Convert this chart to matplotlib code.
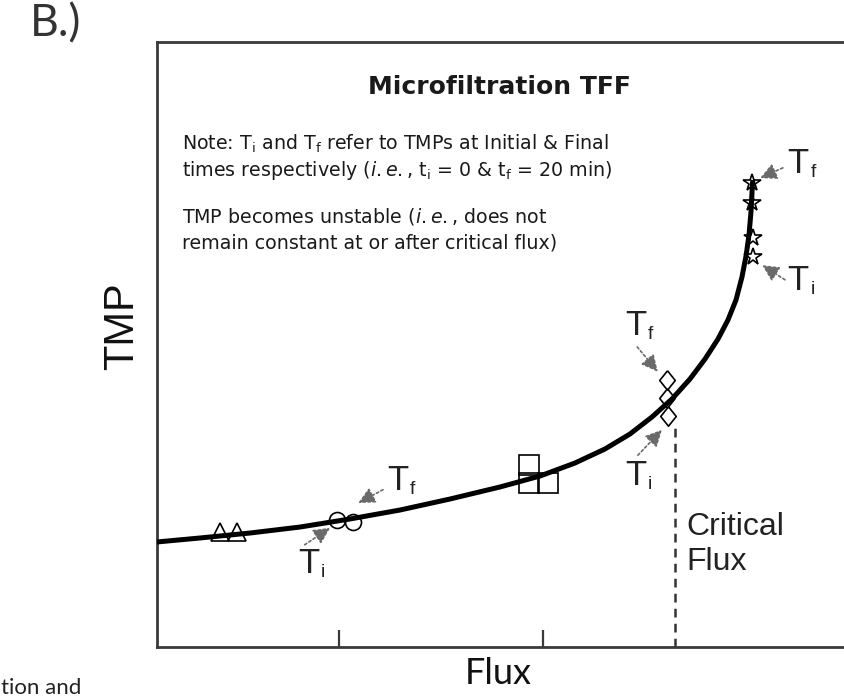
import numpy as np
import matplotlib
matplotlib.use('Agg')
import matplotlib.pyplot as plt

# TMP vs flux curve (arbitrary units)
flux = [0.000, 0.626, 1.354, 2.082, 2.809, 3.537, 4.265, 4.993, 5.575, 6.084,
        6.521, 6.885, 7.205, 7.496, 7.758, 7.977, 8.166, 8.311, 8.428, 8.515,
        8.574, 8.617, 8.646, 8.668, 8.675]
tmp = [1.736, 1.802, 1.884, 1.983, 2.116, 2.264, 2.446, 2.645, 2.826, 3.041,
       3.273, 3.521, 3.802, 4.099, 4.430, 4.760, 5.091, 5.405, 5.736, 6.116,
       6.463, 6.810, 7.190, 7.669, 7.719]

# Ti / Tf points at each flux step
tri_x = [0.92, 1.16]
tri_y = [1.90, 1.90]
circ_x = [2.62, 2.85]
circ_y = [2.10, 2.07]
sq_x = [5.41, 5.41, 5.69]
sq_y = [3.01, 2.71, 2.71]
dia_x = [7.42, 7.42, 7.44]
dia_y = [4.41, 4.12, 3.82]
star_x = [8.66, 8.66, 8.68, 8.68]
star_y = [7.67, 7.34, 6.76, 6.45]

critical_flux = 7.54
critical_top = 3.67
flux_ticks = [2.65, 5.62]

# annotations: subscript, T position (left, baseline), arrow tail, arrow tip
labels = [
    ('f', (9.18, 7.83), (9.11, 7.92), (8.78, 7.75)),
    ('i', (9.18, 5.90), (9.14, 6.07), (8.81, 6.31)),
    ('f', (6.81, 5.16), (6.99, 4.96), (7.29, 4.55)),
    ('i', (6.81, 2.68), (7.00, 3.17), (7.35, 3.59)),
    ('f', (3.35, 2.60), (3.29, 2.60), (2.93, 2.38)),
    ('i', (2.05, 1.22), (2.15, 1.69), (2.52, 1.97)),
]

note_lines = [
    r"Note: T$_\mathregular{i}$ and T$_\mathregular{f}$ refer to TMPs at Initial & Final",
    r"times respectively ($\mathit{i.e.}$, t$_\mathregular{i}$ = 0 & t$_\mathregular{f}$ = 20 min)",
    r"TMP becomes unstable ($\mathit{i.e.}$, does not",
    r"remain constant at or after critical flux)",
]
note_y = [8.31, 7.88, 7.12, 6.68]

W, H = 844, 698
fig = plt.figure(figsize=(W / 100, H / 100), dpi=100)
ax = fig.add_axes([157 / W, (H - 647) / H, (W - 157) / W, (647 - 42) / H])
ax.set_xlim(0, 10)
ax.set_ylim(0, 10)

spine_col = '#3a3a3a'
for s in ['left', 'top', 'bottom']:
    ax.spines[s].set_color(spine_col)
    ax.spines[s].set_linewidth(2.0)
ax.spines['right'].set_visible(False)
ax.set_xticks(flux_ticks)
ax.set_xticklabels([])
ax.set_yticks([])
ax.tick_params(axis='x', direction='in', length=12, width=1.6, color=spine_col)

ax.plot(flux, tmp, color='black', lw=3.6, solid_joinstyle='round',
        solid_capstyle='butt', zorder=3)
ax.vlines(critical_flux, 0, critical_top, colors='#333333', lw=1.8,
          linestyles=(0, (3.5, 2.5)), zorder=2)

mk = dict(linestyle='none', markerfacecolor='none', markeredgecolor='black',
          markeredgewidth=1.2, zorder=4)
ax.plot(tri_x, tri_y, marker='^', markersize=13, **mk)
ax.plot(circ_x, circ_y, marker='o', markersize=11.5, **mk)
ax.plot(sq_x, sq_y, marker='s', markersize=14, **mk)
diamond = [(0, 1), (0.8, 0), (0, -1), (-0.8, 0), (0, 1)]
ax.plot(dia_x, dia_y, marker=diamond, markersize=14, **mk)
ax.plot(star_x, star_y, marker='*', markersize=13, **mk)

arrow_col = '#6a6a6a'
for sub, tpos, tail, tip in labels:
    ax.annotate('', xy=tip, xytext=tail,
                arrowprops=dict(arrowstyle='-|>,head_length=0.5,head_width=0.25',
                                color=arrow_col, lw=1.2, linestyle=(0, (1.5, 1.5)),
                                mutation_scale=20, shrinkA=0, shrinkB=0), zorder=5)
    ax.text(tpos[0], tpos[1], 'T', fontsize=25, family='Liberation Sans',
            ha='left', va='baseline', color='#222222')
    ax.annotate(sub, xy=tpos, xytext=(16.5, -3), textcoords='offset points',
                fontsize=14, family='Liberation Sans', ha='left', va='baseline',
                color='#222222')

ax.text(4.98, 9.26, 'Microfiltration TFF', fontsize=18, fontweight='bold',
        family='DejaVu Sans', ha='center', va='center', color='#1a1a1a')
for line, y in zip(note_lines, note_y):
    ax.text(0.36, y, line, fontsize=13.7, family='DejaVu Sans', ha='left',
            va='center', color='#1a1a1a')

ax.text(7.71, 1.85, 'Critical', fontsize=23, family='Liberation Sans',
        ha='left', va='baseline', color='#222222')
ax.text(7.71, 1.27, 'Flux', fontsize=23, family='Liberation Sans',
        ha='left', va='baseline', color='#222222')

fig.text(122 / W, 1 - 326 / H, 'TMP', rotation=90, fontsize=30,
         family='Liberation Sans', ha='center', va='center', color='#111111')
fig.text(498 / W, 1 - 673 / H, 'Flux', fontsize=26, family='Lato',
         ha='center', va='center', color='#111111')
fig.text(56 / W, 1 - 24 / H, 'B.)', fontsize=32, family='Lato',
         ha='center', va='center', color='#333333')
fig.text(1 / W, 1 - 688 / H, 'tion and', fontsize=16, family='Lato',
         ha='left', va='center', color='#222222')

fig.savefig('out.png', dpi=100)
